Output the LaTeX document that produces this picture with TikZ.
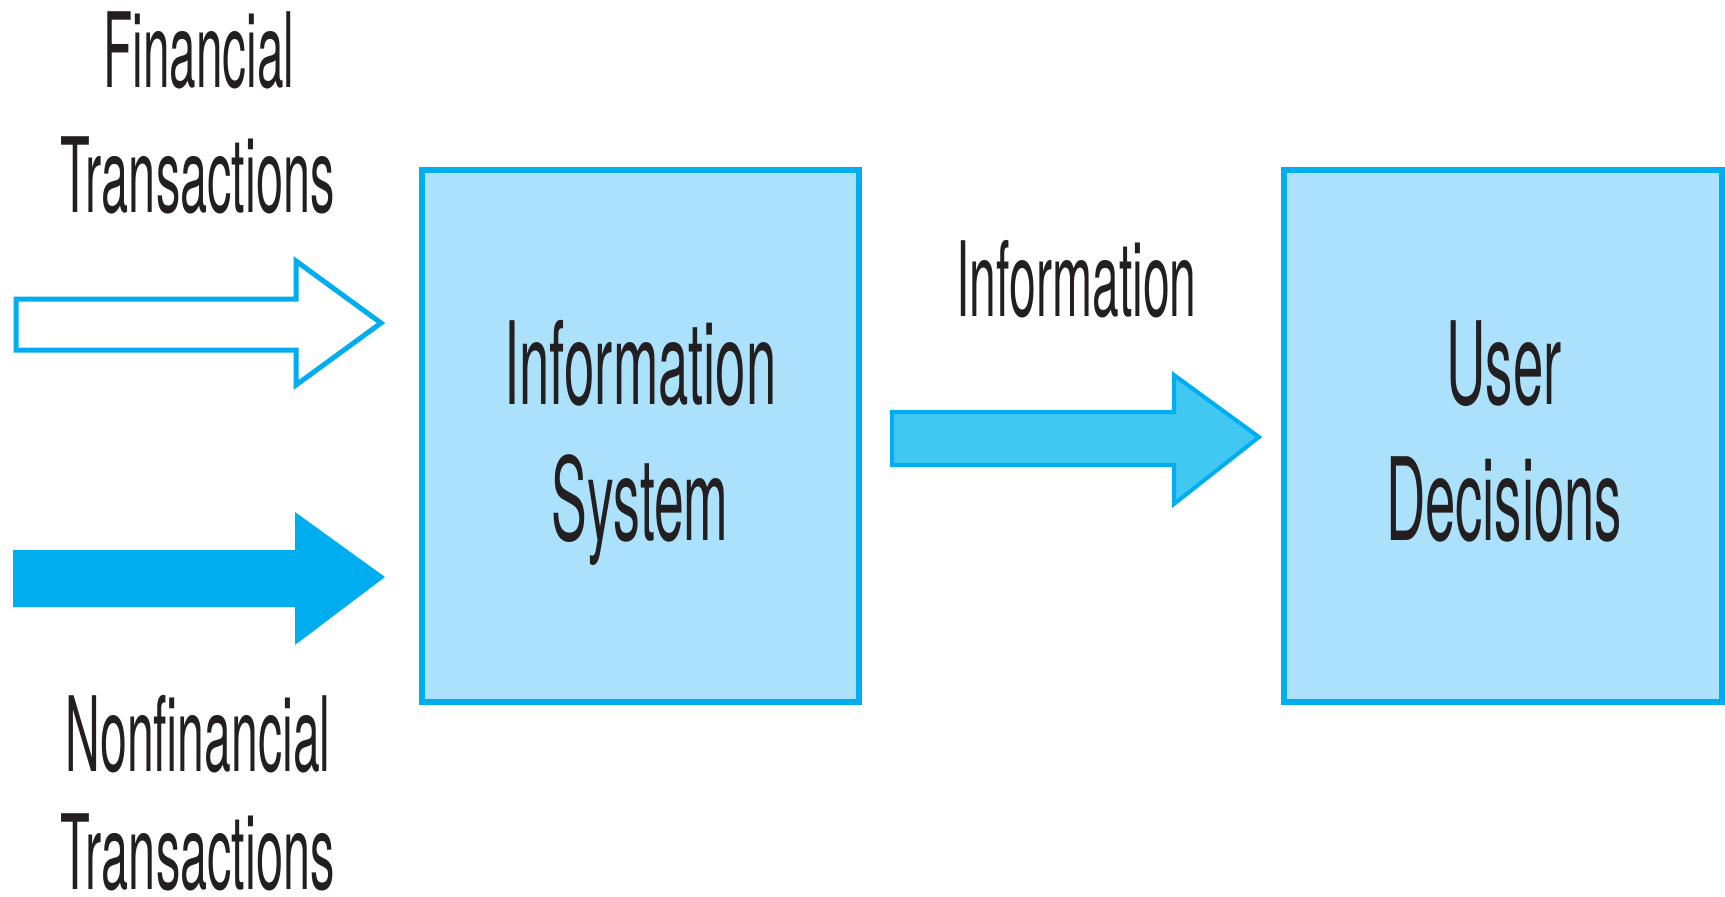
\documentclass[tikz,border=0pt]{standalone}
\usepackage{fontspec}
\usepackage{graphicx}
\setmainfont{TeX Gyre Heros}

\definecolor{flowcyan}{RGB}{0,174,239}
\definecolor{boxfill}{RGB}{171,225,250}
\definecolor{midfill}{RGB}{64,200,242}
\definecolor{inkdark}{RGB}{35,31,32}

% squeeze a word horizontally to a given width, keeping its height
\newcommand{\squeezeto}[2]{\resizebox{#1pt}{\height}{#2}}

\tikzset{
  procbox/.style={draw=flowcyan, fill=boxfill, line width=6pt, rectangle, inner sep=0pt},
  outword/.style={anchor=base, inner sep=0pt, text=inkdark, font=\fontsize{104}{110}\selectfont},
  inword/.style={anchor=base, inner sep=0pt, text=inkdark, font=\fontsize{115}{120}\selectfont},
  hollowarrow/.style={draw=flowcyan, fill=white, line width=5pt, line join=miter},
  solidarrow/.style={fill=flowcyan},
  midarrow/.style={draw=flowcyan, fill=midfill, line width=4pt, line join=miter}
}

\begin{document}
\begin{tikzpicture}[x=1pt, y=-1pt]
  \useasboundingbox (0,0) rectangle (1725,897);

  % the two process boxes
  \node[procbox, minimum width=437pt, minimum height=532pt] (sys) at (640.5,436) {};
  \node[procbox, minimum width=438pt, minimum height=532pt] (user) at (1503,436) {};

  % labels inside the boxes
  \node[inword] (sysA) at (640.5,404) {\squeezeto{272}{Information}};
  \node[inword] (sysB) at (640,540) {\squeezeto{177}{System}};
  \node[inword] (userA) at (1504,404) {\squeezeto{115}{User}};
  \node[inword] (userB) at (1504,540) {\squeezeto{236}{Decisions}};

  % incoming financial transactions: hollow block arrow
  \draw[hollowarrow] (16,299) -- (296,299) -- (296,261) -- (381,323)
        -- (296,385) -- (296,350) -- (16,350) -- cycle;
  \node[outword] (finA) at (199,87) {\squeezeto{191}{Financial}};
  \node[outword] (finB) at (197.5,212) {\squeezeto{274}{Transactions}};

  % incoming nonfinancial transactions: solid block arrow
  \fill[solidarrow] (13,550) -- (295,550) -- (295,512) -- (385,577)
        -- (295,645) -- (295,607) -- (13,607) -- cycle;
  \node[outword] (nonA) at (198,771) {\squeezeto{265}{Nonfinancial}};
  \node[outword] (nonB) at (197.5,889) {\squeezeto{274}{Transactions}};

  % information flowing from the system to the user
  \draw[midarrow] (892,412) -- (1174,412) -- (1174,375) -- (1259,437)
        -- (1174,504) -- (1174,465) -- (892,465) -- cycle;
  \node[outword] (info) at (1076.5,316) {\squeezeto{240}{Information}};
\end{tikzpicture}
\end{document}
